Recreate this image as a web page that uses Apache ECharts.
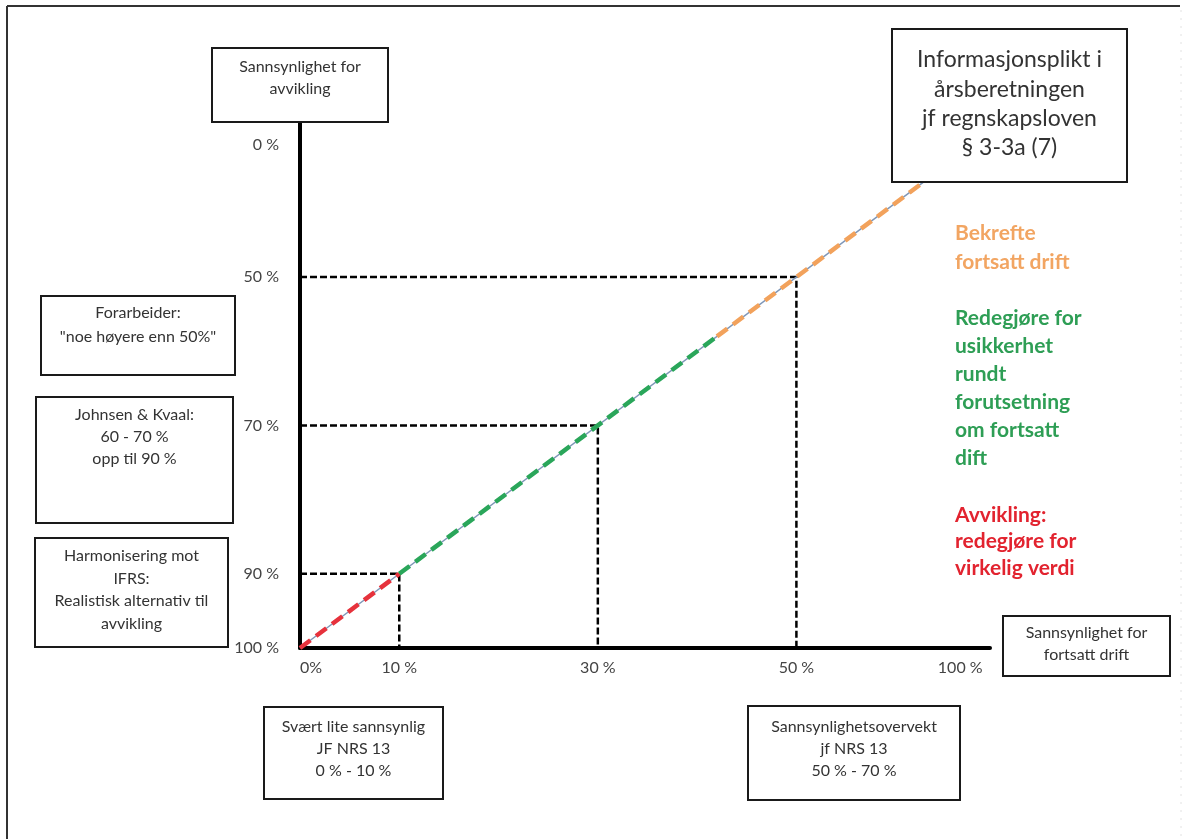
<!DOCTYPE html>
<html><head><meta charset="utf-8">
<script src="https://cdn.jsdelivr.net/npm/echarts@6/dist/echarts.min.js"></script>
<style>html,body{margin:0;padding:0;background:#fff}#c{width:1186px;height:839px}</style>
</head><body><div id="c"></div>
<script>
// ---- data ----
const xTickValues = [0, 10, 30, 50, 66.5];
const xTickLabels = ['0%', '10 %', '30 %', '50 %', '100 %'];
const yTickValues = [32.2, 50, 70, 90, 100];
const yTickLabels = ['0 %', '50 %', '70 %', '90 %', '100 %'];
// thresholds: going concern % (x) vs liquidation % (y)
const thresholdX = [10, 30, 50];
const thresholdY = [90, 70, 50];
// main line and its coloured zones
const fullLine = [[0, 100], [63, 37]];
const redSegment = [[0, 100], [10, 90]];
const greenSegment = [[10, 90], [42, 58]];
const orangeSegment = [[42, 58], [63, 37]];

const boxTexts = {
  avvikling: ['Sannsynlighet for', 'avvikling'],
  forarbeider: ['Forarbeider:', '"noe høyere enn 50%"'],
  johnsen: ['Johnsen & Kvaal:', '60 - 70 %', 'opp til 90 %'],
  harmonisering: ['Harmonisering mot', 'IFRS:', 'Realistisk alternativ til', 'avvikling'],
  svaert: ['Svært lite sannsynlig', 'JF NRS 13', '0 % - 10 %'],
  overvekt: ['Sannsynlighetsovervekt', 'jf NRS 13', '50 % - 70 %'],
  fortsatt: ['Sannsynlighet for', 'fortsatt drift'],
  info: ['Informasjonsplikt i', 'årsberetningen', 'jf regnskapsloven', '§ 3-3a (7)']
};
const orangeText = ['Bekrefte', 'fortsatt drift'];
const greenText = ['Redegjøre for', 'usikkerhet', 'rundt', 'forutsetning', 'om fortsatt', 'dift'];
const redText = ['Avvikling:', 'redegjøre for', 'virkelig verdi'];

// ---- build ----
const FONT = 'Lato, "Open Sans", sans-serif';
const TXT = '#333';
function fmt(values, labels) {
  return function (v) {
    for (let i = 0; i < values.length; i++) if (Math.abs(values[i] - v) < 1e-6) return labels[i];
    return '';
  };
}
const graphics = [];
function box(x, y, w, h, lines, firstY, step, size) {
  graphics.push({ type: 'rect', z: 100, shape: { x: x, y: y, width: w, height: h },
    style: { fill: '#fff', stroke: '#1a1a1a', lineWidth: 2 } });
  lines.forEach(function (t, i) {
    graphics.push({ type: 'text', z: 101, x: x + w / 2, y: firstY + i * step,
      style: { text: t, fill: TXT, font: size + 'px ' + FONT, align: 'center', verticalAlign: 'middle' } });
  });
}
function colText(x, firstY, step, lines, color) {
  lines.forEach(function (t, i) {
    graphics.push({ type: 'text', z: 101, x: x, y: firstY + i * step,
      style: { text: t, fill: color, font: 'bold 21px ' + FONT, align: 'left', verticalAlign: 'middle' } });
  });
}
// frame
graphics.push({ type: 'line', z: 99, shape: { x1: 7, y1: 6, x2: 1180, y2: 6 }, style: { stroke: '#333', lineWidth: 2 } });
graphics.push({ type: 'line', z: 99, shape: { x1: 7, y1: 6, x2: 7, y2: 839 }, style: { stroke: '#333', lineWidth: 2 } });
graphics.push({ type: 'line', z: 99, shape: { x1: 1181, y1: 10, x2: 1181, y2: 839 }, style: { stroke: '#e2e2e2', lineWidth: 1, lineDash: [2, 6] } });

box(212, 48, 176, 74, boxTexts.avvikling, 67, 22, 16);
box(41, 296, 194, 79, boxTexts.forarbeider, 313, 24, 16);
box(36, 397, 197, 126, boxTexts.johnsen, 415, 22, 16);
box(35, 538, 193, 109, boxTexts.harmonisering, 556, 22.5, 16);
box(264, 707, 179, 92, boxTexts.svaert, 727, 22, 16);
box(748, 706, 212, 94, boxTexts.overvekt, 727, 22, 16);
box(1003, 616, 167, 60, boxTexts.fortsatt, 633, 22, 16);
box(892, 29, 235, 153, boxTexts.info, 60, 29.3, 23);
colText(955, 233, 29, orangeText, '#f2a562');
colText(955, 318, 28, greenText, '#2e9e55');
colText(955, 515, 26.5, redText, '#e2232f');

const series = [];
thresholdX.forEach(function (x, i) {
  const y = thresholdY[i];
  series.push({ type: 'line', data: [[0, y], [x, y], [x, 100]], showSymbol: false, silent: true, z: 2,
    lineStyle: { color: '#000', width: 2.5, type: [7, 3] } });
});
series.push({ type: 'line', data: fullLine, showSymbol: false, silent: true, z: 3,
  lineStyle: { color: '#7f97b8', width: 1.5 } });
[[redSegment, '#e6323c'], [greenSegment, '#2aa65a'], [orangeSegment, '#f2a25c']].forEach(function (s) {
  series.push({ type: 'line', data: s[0], showSymbol: false, silent: true, z: 4,
    lineStyle: { color: s[1], width: 4.5, type: [13, 7] } });
});

const chart = echarts.init(document.getElementById('c'), null, { renderer: 'canvas' });
chart.setOption({
  animation: false,
  backgroundColor: '#fff',
  grid: { left: 300, top: 122, right: 196, bottom: 191, containLabel: false },
  xAxis: {
    type: 'value', min: 0, max: 69.5,
    axisLine: { show: true, onZero: false, lineStyle: { color: '#000', width: 4 } },
    axisTick: { show: false }, splitLine: { show: false },
    axisLabel: { customValues: xTickValues, formatter: fmt(xTickValues, xTickLabels), margin: 12,
      color: '#444', fontSize: 16, fontFamily: FONT, alignMinLabel: 'left' }
  },
  yAxis: {
    type: 'value', inverse: true, min: 29.1, max: 100,
    axisLine: { show: true, onZero: false, lineStyle: { color: '#000', width: 4 } },
    axisTick: { show: false }, splitLine: { show: false },
    axisLabel: { customValues: yTickValues, formatter: fmt(yTickValues, yTickLabels), margin: 21,
      color: '#444', fontSize: 16, fontFamily: FONT }
  },
  series: series,
  graphic: graphics
});
</script></body></html>
